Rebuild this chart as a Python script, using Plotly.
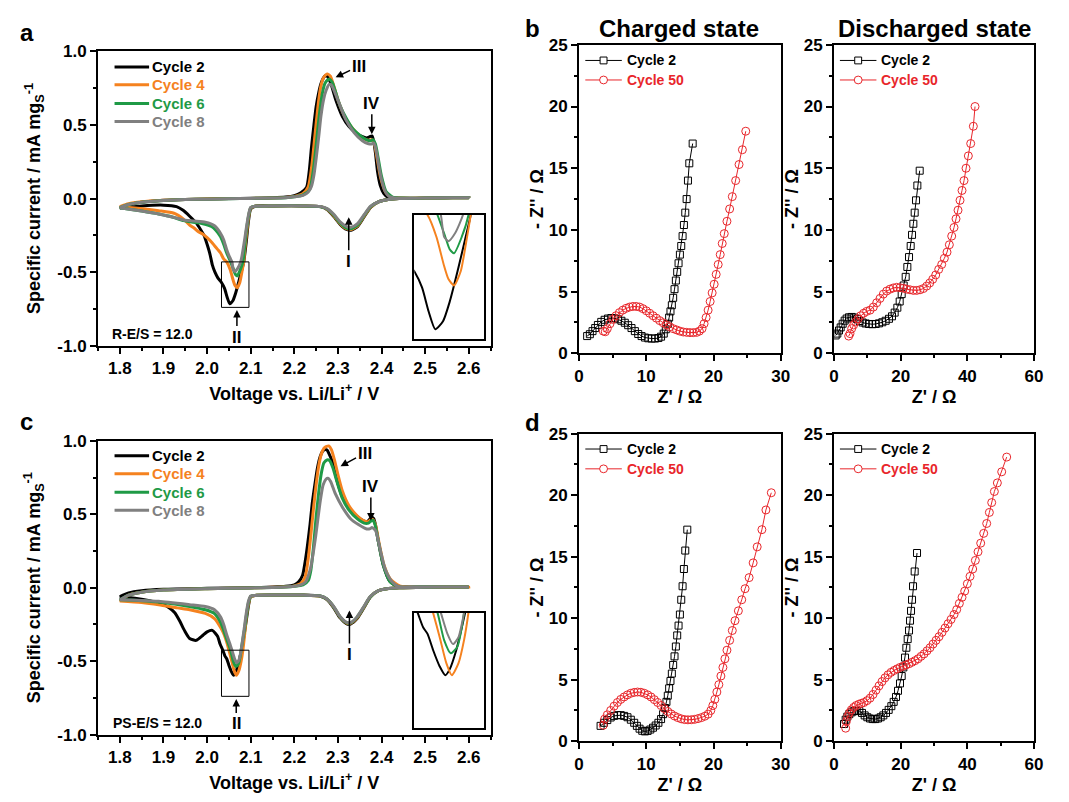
import plotly.graph_objects as go

W, H = 1069, 802
FONT = "Liberation Sans, Arial, Helvetica, sans-serif"

# ---------------- data ----------------
cycle_names = ["Cycle 2", "Cycle 4", "Cycle 6", "Cycle 8"]
cycle_colors = ["#000000", "#f5821f", "#1f9a46", "#808080"]

cv_x_ticks = [1.8, 1.9, 2.0, 2.1, 2.2, 2.3, 2.4, 2.5, 2.6]
cv_x_labels = ["1.8", "1.9", "2.0", "2.1", "2.2", "2.3", "2.4", "2.5", "2.6"]
cv_y_ticks = [-1.0, -0.5, 0.0, 0.5, 1.0]
cv_y_labels = ["-1.0", "-0.5", "0.0", "0.5", "1.0"]

# Panel a (R-E/S = 12.0): cathodic sweep 2.6 -> 1.8 V  (V, mA/mg)
a_red_c2 = [(2.60,0.005),(2.50,0.004),(2.44,0.0),(2.415,-0.006),(2.395,-0.02),(2.375,-0.06),(2.36,-0.125),(2.345,-0.19),(2.33,-0.215),(2.32,-0.21),(2.305,-0.175),(2.29,-0.12),(2.275,-0.075),(2.26,-0.055),(2.22,-0.05),(2.15,-0.05),(2.11,-0.052),(2.10,-0.07),(2.095,-0.15),(2.09,-0.29),(2.084,-0.43),(2.079,-0.49),(2.073,-0.56),(2.065,-0.646),(2.059,-0.694),(2.052,-0.714),(2.046,-0.67),(2.04,-0.61),(2.033,-0.57),(2.025,-0.54),(2.018,-0.50),(2.012,-0.45),(2.006,-0.37),(2.0,-0.31),(1.993,-0.25),(1.985,-0.21),(1.975,-0.165),(1.96,-0.12),(1.945,-0.08),(1.93,-0.055),(1.90,-0.045),(1.85,-0.05),(1.80,-0.065)]
a_red_c4 = [(2.60,0.005),(2.50,0.004),(2.44,0.0),(2.415,-0.006),(2.395,-0.02),(2.375,-0.058),(2.36,-0.12),(2.345,-0.185),(2.33,-0.21),(2.32,-0.205),(2.305,-0.17),(2.29,-0.115),(2.275,-0.072),(2.26,-0.055),(2.22,-0.05),(2.15,-0.05),(2.11,-0.052),(2.10,-0.065),(2.095,-0.13),(2.09,-0.25),(2.086,-0.36),(2.084,-0.43),(2.081,-0.48),(2.075,-0.57),(2.069,-0.605),(2.064,-0.59),(2.06,-0.557),(2.053,-0.484),(2.045,-0.43),(2.038,-0.41),(2.031,-0.37),(2.024,-0.345),(2.017,-0.32),(2.01,-0.295),(2.0,-0.265),(1.99,-0.24),(1.98,-0.225),(1.97,-0.2),(1.96,-0.18),(1.946,-0.14),(1.924,-0.10),(1.889,-0.083),(1.853,-0.07),(1.80,-0.055)]
a_red_c6 = [(2.60,0.005),(2.50,0.004),(2.44,0.0),(2.415,-0.006),(2.395,-0.02),(2.375,-0.055),(2.36,-0.115),(2.345,-0.18),(2.33,-0.205),(2.32,-0.2),(2.305,-0.165),(2.29,-0.11),(2.275,-0.07),(2.26,-0.055),(2.22,-0.05),(2.15,-0.05),(2.11,-0.052),(2.10,-0.062),(2.095,-0.12),(2.09,-0.22),(2.086,-0.33),(2.082,-0.43),(2.076,-0.484),(2.069,-0.525),(2.065,-0.515),(2.061,-0.484),(2.054,-0.43),(2.045,-0.37),(2.038,-0.31),(2.031,-0.26),(2.02,-0.215),(2.01,-0.19),(1.988,-0.17),(1.965,-0.16),(1.946,-0.15),(1.92,-0.125),(1.889,-0.105),(1.85,-0.085),(1.80,-0.062)]
a_red_c8 = [(2.60,0.005),(2.50,0.004),(2.44,0.0),(2.415,-0.006),(2.395,-0.02),(2.375,-0.052),(2.36,-0.11),(2.345,-0.17),(2.33,-0.195),(2.32,-0.19),(2.305,-0.158),(2.29,-0.105),(2.275,-0.068),(2.26,-0.054),(2.22,-0.05),(2.15,-0.05),(2.11,-0.052),(2.10,-0.06),(2.095,-0.11),(2.09,-0.2),(2.085,-0.3),(2.08,-0.39),(2.077,-0.43),(2.07,-0.475),(2.064,-0.495),(2.06,-0.484),(2.057,-0.43),(2.052,-0.40),(2.045,-0.348),(2.038,-0.28),(2.031,-0.237),(2.017,-0.185),(1.996,-0.16),(1.97,-0.152),(1.946,-0.145),(1.92,-0.125),(1.889,-0.105),(1.85,-0.085),(1.80,-0.062)]
# Panel a: anodic sweep 1.8 -> 2.6 V
a_ox_c2 = [(1.80,-0.065),(1.82,-0.04),(1.85,-0.025),(1.90,-0.012),(1.95,-0.006),(2.0,-0.003),(2.05,0.0),(2.10,0.002),(2.15,0.005),(2.18,0.01),(2.20,0.02),(2.215,0.04),(2.228,0.075),(2.234,0.18),(2.239,0.337),(2.245,0.50),(2.250,0.624),(2.256,0.72),(2.261,0.779),(2.266,0.815),(2.271,0.834),(2.276,0.83),(2.284,0.779),(2.295,0.67),(2.31,0.558),(2.325,0.49),(2.34,0.448),(2.355,0.422),(2.366,0.412),(2.373,0.42),(2.378,0.425),(2.382,0.39),(2.386,0.31),(2.391,0.18),(2.397,0.09),(2.405,0.035),(2.415,0.008),(2.43,0.003),(2.5,0.003),(2.6,0.005)]
a_ox_c4 = [(1.80,-0.055),(1.82,-0.035),(1.85,-0.022),(1.90,-0.012),(1.95,-0.006),(2.0,-0.003),(2.05,0.0),(2.10,0.001),(2.15,0.004),(2.18,0.008),(2.20,0.015),(2.22,0.035),(2.232,0.08),(2.24,0.22),(2.247,0.42),(2.254,0.62),(2.26,0.75),(2.266,0.815),(2.272,0.84),(2.277,0.845),(2.283,0.83),(2.29,0.77),(2.30,0.67),(2.315,0.56),(2.33,0.49),(2.345,0.44),(2.36,0.405),(2.372,0.395),(2.378,0.40),(2.383,0.38),(2.39,0.27),(2.398,0.14),(2.41,0.04),(2.425,0.008),(2.45,0.003),(2.5,0.003),(2.6,0.005)]
a_ox_c6 = [(1.80,-0.062),(1.82,-0.04),(1.85,-0.025),(1.90,-0.013),(1.95,-0.007),(2.0,-0.004),(2.05,-0.001),(2.10,0.001),(2.15,0.003),(2.18,0.006),(2.20,0.012),(2.22,0.025),(2.235,0.06),(2.243,0.18),(2.25,0.36),(2.257,0.56),(2.264,0.71),(2.27,0.78),(2.276,0.805),(2.281,0.81),(2.287,0.79),(2.295,0.72),(2.305,0.63),(2.32,0.54),(2.335,0.47),(2.35,0.43),(2.365,0.40),(2.375,0.393),(2.38,0.40),(2.386,0.37),(2.392,0.28),(2.40,0.15),(2.41,0.05),(2.425,0.01),(2.45,0.003),(2.5,0.003),(2.6,0.005)]
a_ox_c8 = [(1.80,-0.062),(1.82,-0.04),(1.85,-0.025),(1.90,-0.013),(1.95,-0.007),(2.0,-0.004),(2.05,-0.001),(2.10,0.001),(2.15,0.003),(2.18,0.006),(2.20,0.012),(2.22,0.022),(2.232,0.045),(2.239,0.08),(2.245,0.16),(2.25,0.27),(2.256,0.42),(2.261,0.558),(2.267,0.67),(2.273,0.735),(2.28,0.775),(2.285,0.77),(2.291,0.735),(2.303,0.646),(2.318,0.536),(2.337,0.448),(2.356,0.392),(2.37,0.372),(2.377,0.37),(2.382,0.378),(2.386,0.35),(2.39,0.29),(2.395,0.2),(2.401,0.116),(2.408,0.05),(2.416,0.017),(2.43,0.003),(2.5,0.003),(2.6,0.005)]

# Panel c (PS-E/S = 12.0): cathodic sweep
c_red_c2 = [(2.60,0.005),(2.50,0.004),(2.44,0.0),(2.416,-0.005),(2.393,-0.02),(2.374,-0.065),(2.359,-0.14),(2.344,-0.21),(2.33,-0.245),(2.32,-0.245),(2.305,-0.205),(2.29,-0.135),(2.275,-0.08),(2.26,-0.058),(2.22,-0.05),(2.15,-0.05),(2.11,-0.052),(2.10,-0.06),(2.095,-0.12),(2.09,-0.22),(2.085,-0.32),(2.079,-0.425),(2.076,-0.465),(2.071,-0.527),(2.065,-0.58),(2.061,-0.596),(2.056,-0.572),(2.05,-0.527),(2.045,-0.483),(2.041,-0.465),(2.036,-0.425),(2.03,-0.385),(2.024,-0.33),(2.012,-0.29),(2.0,-0.30),(1.99,-0.325),(1.975,-0.358),(1.96,-0.345),(1.948,-0.29),(1.937,-0.225),(1.926,-0.17),(1.912,-0.135),(1.90,-0.115),(1.853,-0.08),(1.80,-0.06)]
c_red_c4 = [(2.60,0.005),(2.50,0.004),(2.44,0.0),(2.416,-0.005),(2.393,-0.02),(2.374,-0.063),(2.359,-0.135),(2.344,-0.205),(2.33,-0.24),(2.32,-0.24),(2.305,-0.2),(2.29,-0.13),(2.275,-0.078),(2.26,-0.057),(2.22,-0.05),(2.15,-0.05),(2.11,-0.052),(2.10,-0.06),(2.095,-0.11),(2.09,-0.2),(2.086,-0.32),(2.082,-0.425),(2.078,-0.50),(2.073,-0.563),(2.067,-0.596),(2.062,-0.563),(2.056,-0.492),(2.05,-0.425),(2.045,-0.37),(2.038,-0.31),(2.031,-0.27),(2.017,-0.21),(1.996,-0.175),(1.96,-0.15),(1.932,-0.137),(1.889,-0.115),(1.85,-0.1),(1.80,-0.09)]
c_red_c6 = [(2.60,0.005),(2.50,0.004),(2.44,0.0),(2.416,-0.005),(2.393,-0.02),(2.374,-0.062),(2.359,-0.133),(2.344,-0.2),(2.33,-0.238),(2.32,-0.238),(2.305,-0.198),(2.29,-0.128),(2.275,-0.077),(2.26,-0.056),(2.22,-0.05),(2.15,-0.05),(2.11,-0.052),(2.10,-0.058),(2.095,-0.1),(2.09,-0.19),(2.085,-0.3),(2.078,-0.425),(2.076,-0.465),(2.072,-0.518),(2.066,-0.536),(2.06,-0.50),(2.054,-0.425),(2.045,-0.35),(2.038,-0.29),(2.031,-0.236),(2.017,-0.175),(1.996,-0.15),(1.96,-0.127),(1.889,-0.097),(1.85,-0.088),(1.80,-0.082)]
c_red_c8 = [(2.60,0.005),(2.50,0.004),(2.44,0.0),(2.416,-0.005),(2.393,-0.02),(2.374,-0.06),(2.359,-0.13),(2.344,-0.198),(2.33,-0.236),(2.32,-0.236),(2.305,-0.196),(2.29,-0.126),(2.275,-0.076),(2.26,-0.056),(2.22,-0.05),(2.15,-0.05),(2.11,-0.052),(2.10,-0.056),(2.095,-0.09),(2.09,-0.17),(2.085,-0.28),(2.078,-0.425),(2.076,-0.456),(2.073,-0.492),(2.068,-0.511),(2.063,-0.483),(2.057,-0.425),(2.052,-0.38),(2.045,-0.32),(2.038,-0.25),(2.031,-0.2),(2.017,-0.15),(1.996,-0.128),(1.96,-0.115),(1.889,-0.092),(1.85,-0.086),(1.80,-0.082)]
# Panel c: anodic sweep
c_ox_c2 = [(1.80,-0.06),(1.82,-0.035),(1.85,-0.02),(1.90,-0.01),(2.0,-0.004),(2.1,0.0),(2.15,0.005),(2.18,0.01),(2.20,0.02),(2.21,0.04),(2.219,0.085),(2.225,0.18),(2.23,0.284),(2.236,0.43),(2.241,0.572),(2.247,0.70),(2.253,0.815),(2.259,0.89),(2.264,0.925),(2.27,0.94),(2.275,0.937),(2.28,0.91),(2.287,0.86),(2.298,0.73),(2.31,0.62),(2.325,0.54),(2.344,0.485),(2.359,0.455),(2.368,0.452),(2.374,0.47),(2.378,0.48),(2.382,0.47),(2.386,0.43),(2.393,0.31),(2.404,0.155),(2.419,0.044),(2.438,0.01),(2.5,0.005),(2.6,0.005)]
c_ox_c4 = [(1.80,-0.09),(1.82,-0.05),(1.85,-0.03),(1.90,-0.015),(2.0,-0.006),(2.1,-0.001),(2.15,0.003),(2.18,0.007),(2.20,0.013),(2.215,0.03),(2.225,0.075),(2.232,0.2),(2.238,0.36),(2.244,0.54),(2.25,0.70),(2.256,0.83),(2.262,0.91),(2.268,0.95),(2.274,0.962),(2.279,0.965),(2.285,0.94),(2.292,0.87),(2.30,0.77),(2.31,0.66),(2.325,0.56),(2.344,0.49),(2.36,0.455),(2.37,0.45),(2.376,0.465),(2.38,0.465),(2.386,0.43),(2.394,0.31),(2.405,0.16),(2.42,0.06),(2.44,0.015),(2.46,0.005),(2.6,0.005)]
c_ox_c6 = [(1.80,-0.082),(1.82,-0.05),(1.85,-0.03),(1.90,-0.015),(2.0,-0.006),(2.1,-0.001),(2.15,0.002),(2.18,0.005),(2.20,0.01),(2.22,0.02),(2.232,0.05),(2.238,0.12),(2.244,0.28),(2.25,0.48),(2.256,0.65),(2.262,0.78),(2.268,0.85),(2.275,0.87),(2.281,0.865),(2.288,0.82),(2.298,0.72),(2.31,0.61),(2.325,0.53),(2.344,0.47),(2.36,0.44),(2.37,0.44),(2.376,0.455),(2.38,0.46),(2.385,0.43),(2.393,0.31),(2.404,0.155),(2.42,0.04),(2.44,0.008),(2.5,0.005),(2.6,0.005)]
c_ox_c8 = [(1.80,-0.082),(1.82,-0.05),(1.85,-0.03),(1.90,-0.015),(2.0,-0.006),(2.1,-0.001),(2.15,0.002),(2.18,0.005),(2.20,0.01),(2.215,0.02),(2.226,0.04),(2.237,0.13),(2.243,0.23),(2.249,0.35),(2.255,0.49),(2.26,0.6),(2.266,0.7),(2.273,0.74),(2.277,0.745),(2.283,0.725),(2.294,0.64),(2.31,0.55),(2.329,0.47),(2.347,0.43),(2.366,0.40),(2.374,0.402),(2.378,0.41),(2.383,0.40),(2.387,0.385),(2.397,0.26),(2.408,0.13),(2.423,0.044),(2.438,0.01),(2.5,0.005),(2.6,0.005)]

# EIS (Nyquist) data: (Z', -Z'') in Ohm
eis_names = ["Cycle 2", "Cycle 50"]
eis_colors = ["#000000", "#e8262b"]
b_chg_c2 = [(1.2,1.4),(1.6,1.55),(2.0,1.8),(2.4,2.05),(2.8,2.3),(3.3,2.55),(3.8,2.72),(4.3,2.82),(4.8,2.86),(5.3,2.84),(5.8,2.76),(6.3,2.64),(6.8,2.48),(7.3,2.28),(7.8,2.05),(8.3,1.8),(8.8,1.57),(9.3,1.4),(9.8,1.28),(10.3,1.22),(10.8,1.2),(11.3,1.2),(11.8,1.24),(12.2,1.35),(12.6,1.6),(12.9,1.95),(13.2,2.4),(13.4,2.9),(13.6,3.4),(13.8,3.9),(14.0,4.5),(14.2,5.2),(14.4,5.9),(14.6,6.6),(14.8,7.3),(15.0,8.0),(15.2,8.7),(15.4,9.5),(15.6,10.4),(15.8,11.4),(16.0,12.5),(16.2,14.0),(16.4,15.4),(16.9,17.0)]
b_chg_c50 = [(3.6,1.8),(3.9,1.75),(4.2,2.0),(4.6,2.4),(5.0,2.75),(5.5,3.05),(6.0,3.3),(6.5,3.5),(7.0,3.65),(7.5,3.75),(8.0,3.8),(8.5,3.8),(9.0,3.75),(9.5,3.62),(10.0,3.45),(10.5,3.25),(11.0,3.05),(11.5,2.85),(12.0,2.65),(12.5,2.48),(13.0,2.3),(13.5,2.15),(14.0,2.0),(14.5,1.9),(15.0,1.8),(15.5,1.73),(16.0,1.7),(16.5,1.68),(17.0,1.68),(17.5,1.7),(17.9,1.8),(18.3,2.0),(18.6,2.4),(18.9,2.9),(19.2,3.5),(19.5,4.2),(19.8,4.9),(20.1,5.6),(20.4,6.4),(20.7,7.2),(21.0,8.0),(21.3,8.9),(21.6,9.7),(22.0,10.7),(22.4,11.7),(22.8,12.7),(23.3,14.0),(23.8,15.3),(24.3,16.5),(24.8,18.0)]
b_dis_c2 = [(0.5,1.45),(1.0,1.6),(1.5,1.85),(2.0,2.1),(2.6,2.4),(3.2,2.65),(3.8,2.82),(4.5,2.92),(5.3,2.95),(6.1,2.9),(6.9,2.78),(7.7,2.62),(8.6,2.5),(9.5,2.42),(10.5,2.38),(11.5,2.36),(12.5,2.38),(13.5,2.43),(14.5,2.52),(15.5,2.64),(16.5,2.8),(17.4,3.0),(18.2,3.3),(19.0,3.7),(19.7,4.2),(20.3,4.8),(20.9,5.5),(21.5,6.2),(22.0,7.0),(22.5,7.8),(23.0,8.7),(23.4,9.6),(23.8,10.5),(24.2,11.4),(24.6,12.4),(25.0,13.6),(25.7,14.8)]
b_dis_c50 = [(4.4,1.4),(4.8,1.6),(5.3,2.0),(5.9,2.3),(6.5,2.55),(7.2,2.8),(8.0,3.05),(8.9,3.25),(9.8,3.4),(10.8,3.5),(11.8,3.75),(12.8,4.1),(13.8,4.45),(14.8,4.8),(15.8,5.05),(16.8,5.2),(17.8,5.3),(18.8,5.35),(19.8,5.32),(20.8,5.28),(21.8,5.2),(22.8,5.15),(23.8,5.1),(24.8,5.1),(25.8,5.15),(26.8,5.25),(27.8,5.45),(28.7,5.7),(29.6,6.0),(30.5,6.35),(31.4,6.8),(32.3,7.2),(33.1,7.7),(33.9,8.2),(34.6,8.8),(35.3,9.5),(36.0,10.2),(36.6,10.9),(37.2,11.6),(37.8,12.4),(38.4,13.2),(39.0,14.0),(39.6,15.0),(40.3,16.0),(41.0,17.0),(41.8,18.4),(42.3,20.0)]
d_chg_c2 = [(3.2,1.25),(3.7,1.5),(4.2,1.72),(4.7,1.93),(5.2,2.06),(5.7,2.12),(6.2,2.12),(6.7,2.06),(7.2,1.95),(7.7,1.75),(8.2,1.5),(8.6,1.25),(9.0,1.02),(9.4,0.85),(9.8,0.8),(10.2,0.84),(10.6,0.95),(11.0,1.1),(11.4,1.28),(11.8,1.5),(12.2,1.8),(12.5,2.2),(12.8,2.7),(13.0,3.2),(13.2,3.7),(13.4,4.3),(13.6,4.9),(13.8,5.5),(14.0,6.2),(14.2,6.9),(14.4,7.7),(14.6,8.6),(14.8,9.4),(15.0,10.3),(15.2,11.5),(15.4,12.6),(15.6,14.0),(15.8,15.5),(16.1,17.2)]
d_chg_c50 = [(3.6,1.3),(3.8,1.8),(4.2,2.15),(4.7,2.5),(5.2,2.85),(5.7,3.15),(6.2,3.4),(6.7,3.6),(7.2,3.77),(7.7,3.9),(8.2,3.97),(8.7,4.0),(9.2,3.98),(9.7,3.9),(10.2,3.77),(10.7,3.6),(11.2,3.38),(11.7,3.15),(12.2,2.9),(12.7,2.65),(13.2,2.42),(13.7,2.22),(14.2,2.05),(14.7,1.92),(15.2,1.82),(15.7,1.76),(16.2,1.74),(16.7,1.75),(17.2,1.78),(17.7,1.84),(18.2,1.92),(18.7,2.03),(19.2,2.2),(19.6,2.5),(19.9,2.9),(20.2,3.4),(20.5,4.0),(20.8,4.6),(21.1,5.3),(21.4,6.0),(21.7,6.7),(22.0,7.4),(22.4,8.2),(22.8,9.0),(23.2,9.8),(23.7,10.6),(24.2,11.5),(24.7,12.4),(25.3,13.3),(25.9,14.5),(26.5,15.8),(27.2,17.2),(27.8,18.8),(28.6,20.2)]
d_dis_c2 = [(3.0,1.4),(3.5,1.75),(4.0,2.0),(4.6,2.2),(5.3,2.35),(6.0,2.45),(6.8,2.48),(7.6,2.45),(8.4,2.3),(9.2,2.1),(10.0,1.95),(10.8,1.85),(11.6,1.8),(12.4,1.8),(13.2,1.85),(14.0,1.95),(14.8,2.1),(15.6,2.3),(16.4,2.55),(17.2,2.85),(17.9,3.2),(18.6,3.6),(19.2,4.1),(19.8,4.7),(20.3,5.3),(20.8,6.0),(21.3,6.8),(21.7,7.6),(22.1,8.3),(22.5,9.0),(22.8,9.8),(23.1,10.6),(23.4,11.5),(23.7,12.6),(24.2,13.8),(24.9,15.3)]
d_dis_c50 = [(3.5,1.06),(3.7,1.6),(4.1,2.0),(4.6,2.3),(5.2,2.55),(5.9,2.75),(6.6,2.9),(7.4,3.0),(8.2,3.08),(9.0,3.15),(9.9,3.3),(10.8,3.5),(11.7,3.8),(12.6,4.15),(13.5,4.5),(14.4,4.85),(15.3,5.15),(16.2,5.4),(17.1,5.6),(18.0,5.75),(18.9,5.88),(19.8,6.0),(20.7,6.1),(21.6,6.2),(22.5,6.3),(23.4,6.42),(24.3,6.55),(25.2,6.7),(26.1,6.9),(27.0,7.1),(27.9,7.35),(28.8,7.6),(29.7,7.9),(30.6,8.2),(31.5,8.5),(32.4,8.85),(33.3,9.2),(34.2,9.55),(35.1,9.9),(36.0,10.3),(36.8,10.7),(37.6,11.2),(38.4,11.7),(39.2,12.2),(40.0,12.8),(40.8,13.4),(41.6,14.0),(42.4,14.7),(43.2,15.4),(44.0,16.1),(44.9,16.9),(45.8,17.7),(46.6,18.6),(47.3,19.4),(48.1,20.3),(49.0,21.0),(50.3,21.9),(51.8,23.1)]

cv_xtitle = "Voltage vs. Li/Li<sup>+</sup> / V"
cv_ytitle = "Specific current / mA mg<sub>S</sub><sup>-1</sup>"
eis_xtitle = "Z' / \u03a9"
eis_ytitle = "- Z'' / \u03a9"


def unzip(pts):
    return [p[0] for p in pts], [p[1] for p in pts]


def PX(x):
    return x / W


def PY(y):
    return 1 - y / H


fig = go.Figure()

# ---------------- CV traces ----------------
cv_panels = [
    ("x", "y", "x2", "y2", [(a_red_c2, a_ox_c2), (a_red_c4, a_ox_c4), (a_red_c6, a_ox_c6), (a_red_c8, a_ox_c8)]),
    ("x3", "y3", "x4", "y4", [(c_red_c2, c_ox_c2), (c_red_c4, c_ox_c4), (c_red_c6, c_ox_c6), (c_red_c8, c_ox_c8)]),
]
for xa, ya, xi, yi, curves in cv_panels:
    for k, (red, ox) in enumerate(curves):
        xs, ys = unzip(red + ox)
        fig.add_trace(go.Scatter(x=xs, y=ys, mode="lines", name=cycle_names[k],
                                 line=dict(color=cycle_colors[k], width=3, shape="spline", smoothing=0.6),
                                 xaxis=xa, yaxis=ya, showlegend=False))
        xs2, ys2 = unzip(red)
        fig.add_trace(go.Scatter(x=xs2, y=ys2, mode="lines", name=cycle_names[k],
                                 line=dict(color=cycle_colors[k], width=2, shape="spline", smoothing=0.6),
                                 xaxis=xi, yaxis=yi, showlegend=False))

# ---------------- EIS traces ----------------
eis_panels = [("x5", "y5", b_chg_c2, b_chg_c50), ("x6", "y6", b_dis_c2, b_dis_c50),
              ("x7", "y7", d_chg_c2, d_chg_c50), ("x8", "y8", d_dis_c2, d_dis_c50)]
for xa, ya, s2, s50 in eis_panels:
    for k, (pts, sym, size) in enumerate([(s2, "square-open", 7), (s50, "circle-open", 8)]):
        xs, ys = unzip(pts)
        fig.add_trace(go.Scatter(x=xs, y=ys, mode="lines+markers", name=eis_names[k],
                                 line=dict(color=eis_colors[k], width=1),
                                 marker=dict(symbol=sym, size=size, color=eis_colors[k], line=dict(width=1)),
                                 xaxis=xa, yaxis=ya, showlegend=False))

# ---------------- axes ----------------
tf = dict(family=FONT, size=17, color="black", weight="bold")
ttf = dict(family=FONT, size=18, color="black", weight="bold")


def main_axis(**kw):
    d = dict(showline=True, linewidth=2, linecolor="black", mirror=True, showgrid=False,
             zeroline=False, ticks="outside", ticklen=6, tickwidth=2, tickcolor="black", tickfont=tf)
    d.update(kw)
    return d


def inset_axis(**kw):
    d = dict(showline=True, linewidth=1.5, linecolor="black", mirror=True, showgrid=False,
             zeroline=False, ticks="", showticklabels=False)
    d.update(kw)
    return d


minor_v = dict(dtick=0.05, ticks="outside", ticklen=3, tickwidth=1.5, tickcolor="black")
minor_i = dict(dtick=0.25, ticks="outside", ticklen=3, tickwidth=1.5, tickcolor="black")

cv_x_dom = [PX(94.3), PX(492)]
cvx_title = dict(text=cv_xtitle, font=ttf, standoff=10)
cvy_title = dict(text=cv_ytitle, font=ttf, standoff=12)
ax = {}
ax["xaxis"] = main_axis(domain=cv_x_dom, range=[1.75, 2.65], anchor="y", tickvals=cv_x_ticks, ticktext=cv_x_labels, minor=minor_v, title=cvx_title)
ax["yaxis"] = main_axis(domain=[PY(345), PY(43.3)], range=[-1, 1], anchor="x", tickvals=cv_y_ticks, ticktext=cv_y_labels, minor=minor_i, title=cvy_title)
ax["xaxis3"] = main_axis(domain=cv_x_dom, range=[1.75, 2.65], anchor="y3", tickvals=cv_x_ticks, ticktext=cv_x_labels, minor=minor_v, title=cvx_title)
ax["yaxis3"] = main_axis(domain=[PY(743.3), PY(442.3)], range=[-1, 1], anchor="x3", tickvals=cv_y_ticks, ticktext=cv_y_labels, minor=minor_i, title=cvy_title)

ins_x_dom = [PX(414.7), PX(485.3)]
ax["xaxis2"] = inset_axis(domain=ins_x_dom, range=[2.033, 2.096], anchor="y2")
ax["yaxis2"] = inset_axis(domain=[PY(338.3), PY(211)], range=[-0.739, -0.43], anchor="x2")
ax["xaxis4"] = inset_axis(domain=ins_x_dom, range=[2.033, 2.096], anchor="y4")
ax["yaxis4"] = inset_axis(domain=[PY(736), PY(618.3)], range=[-0.739, -0.425], anchor="x4")

eis_left = [PX(581.7), PX(786)]
eis_right = [PX(840), PX(1042.7)]
eis_top = [PY(352.7), PY(36.7)]
eis_bot = [PY(750), PY(435)]
mz = dict(ticks="outside", ticklen=3, tickwidth=1.5, tickcolor="black")
for n, xd, yd, xr, dt in [(5, eis_left, eis_top, 30, 10), (6, eis_right, eis_top, 60, 20),
                          (7, eis_left, eis_bot, 30, 10), (8, eis_right, eis_bot, 60, 20)]:
    ax[f"xaxis{n}"] = main_axis(domain=xd, range=[0, xr], anchor=f"y{n}", dtick=dt, tick0=0,
                                minor=dict(dtick=dt / 2, **mz),
                                title=dict(text=eis_xtitle, font=ttf, standoff=6))
    ax[f"yaxis{n}"] = main_axis(domain=yd, range=[0, 25], anchor=f"x{n}", dtick=5, tick0=0,
                                minor=dict(dtick=2.5, **mz),
                                title=dict(text=eis_ytitle + "\u00a0" * 5, font=ttf, standoff=0))

# ---------------- annotations & shapes ----------------
anns = []
shapes = []


def txt(text, xp, yp, size, color="black", xanchor="center", angle=0):
    anns.append(dict(text=text, x=PX(xp), y=PY(yp), xref="paper", yref="paper", showarrow=False,
                     xanchor=xanchor, yanchor="middle", textangle=angle,
                     font=dict(family=FONT, size=size, color=color, weight="bold")))


# panel letters and titles
txt("a", 22, 24, 24)
txt("b", 535, 20, 24)
txt("c", 22, 422, 24)
txt("d", 535, 424, 24)
txt("Charged state", 683, 20, 24)
txt("Discharged state", 942, 20, 24)

# CV legends (manual)
for ys in [(59.3, 77.7, 96.7, 115.3), (457.7, 476, 495, 513.3)]:
    for k, yy in enumerate(ys):
        shapes.append(dict(type="line", xref="paper", yref="paper", x0=PX(111), x1=PX(146),
                           y0=PY(yy), y1=PY(yy), line=dict(color=cycle_colors[k], width=3)))
        txt(cycle_names[k], 147, yy, 15, color=cycle_colors[k], xanchor="left")

# EIS legends (manual)
for x0, ys in [(588, (52.7, 72.7)), (846, (52.7, 72.7)), (588, (450.7, 471)), (846, (450.7, 471))]:
    for k, yy in enumerate(ys):
        shapes.append(dict(type="line", xref="paper", yref="paper", x0=PX(x0), x1=PX(x0 + 37),
                           y0=PY(yy), y1=PY(yy), line=dict(color=eis_colors[k], width=1)))
        cx = x0 + 18.5
        r = 3.5 if k == 0 else 4
        shapes.append(dict(type="rect" if k == 0 else "circle", xref="paper", yref="paper",
                           x0=PX(cx - r), x1=PX(cx + r), y0=PY(yy + r), y1=PY(yy - r),
                           line=dict(color=eis_colors[k], width=1), fillcolor="white"))
        txt(eis_names[k], x0 + 40, yy, 14, color=eis_colors[k], xanchor="left")

# zoom boxes in CV panels
shapes.append(dict(type="rect", xref="x", yref="y", x0=2.033, x1=2.096, y0=-0.739, y1=-0.43,
                   line=dict(color="black", width=1)))
shapes.append(dict(type="rect", xref="x3", yref="y3", x0=2.033, x1=2.096, y0=-0.739, y1=-0.425,
                   line=dict(color="black", width=1)))


def peak(text, x, y, axp, ayp, xr, yr, size=17):
    # label with an arrow pointing at (x, y); label centred at pixel offset (axp, ayp)
    anns.append(dict(text=text, x=x, y=y, xref=xr, yref=yr, showarrow=True, ax=axp, ay=ayp,
                     arrowhead=2, arrowsize=1, arrowwidth=1.5, arrowcolor="black", standoff=0,
                     font=dict(family=FONT, size=size, color="black", weight="bold")))


# panel a peak labels
peak("III", 2.2947, 0.823, 23, -11, "x", "y")
peak("IV", 2.3777, 0.4365, 0, -31, "x", "y")
peak("I", 2.3248, -0.127, 0, 44, "x", "y")
peak("II", 2.0684, -0.757, 0, 27, "x", "y")
anns.append(dict(text="R-E/S = 12.0", x=1.778, y=-0.922, xref="x", yref="y", showarrow=False,
                 xanchor="left", yanchor="middle", font=dict(family=FONT, size=14, color="black", weight="bold")))
# panel c peak labels
peak("III", 2.306, 0.827, 24, -13, "x3", "y3")
peak("IV", 2.3755, 0.457, 0, -34, "x3", "y3")
peak("I", 2.3264, -0.154, 0, 44, "x3", "y3")
peak("II", 2.0668, -0.757, 0, 25, "x3", "y3")
anns.append(dict(text="PS-E/S = 12.0", x=1.779, y=-0.923, xref="x3", yref="y3", showarrow=False,
                 xanchor="left", yanchor="middle", font=dict(family=FONT, size=14, color="black", weight="bold")))

fig.update_layout(width=W, height=H, margin=dict(l=0, r=0, t=0, b=0), paper_bgcolor="white",
                  plot_bgcolor="white", showlegend=False, annotations=anns, shapes=shapes, **ax)

fig.write_html("out.html", config={"displayModeBar": False},
               post_script="document.body.style.margin='0px';")
